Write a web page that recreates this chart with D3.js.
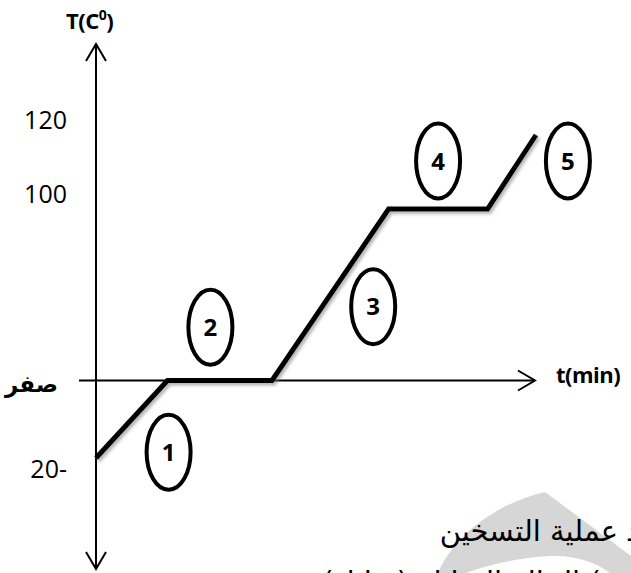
<!DOCTYPE html>
<html>
<head>
<meta charset="utf-8">
<script src="https://cdn.jsdelivr.net/npm/d3@7"></script>
<style>
  body { margin: 0; background: #fff; }
  svg { display: block; }
</style>
</head>
<body>
<div id="chart"></div>
<script>
// heating curve: time (min) vs temperature (C)
const times = [0, 3.25, 8, 13.3, 17.8, 20];
const temps = [-20, 0, 0, 100, 100, 120];

// circled stage numbers, placed in data units
const stageLabels = ["1", "2", "3", "4", "5"];
const stageTimes = [3.3, 5.2, 12.6, 15.55, 21.45];
const stageTemps = [-18.5, 31, 43, 113, 113];

// tick labels on the temperature axis
const tickValues = [120, 100, 0, -20];
const tickLabels = ["120", "100", "صفر", "20-"];

const width = 631, height = 573;

const svg = d3.select("#chart")
    .append("svg")
    .attr("width", width)
    .attr("height", height);

// drop shadow for the curve
const defs = svg.append("defs");
const f = defs.append("filter").attr("id", "shadow")
    .attr("x", "-10%").attr("y", "-10%").attr("width", "130%").attr("height", "130%");
f.append("feDropShadow")
    .attr("dx", 2).attr("dy", 2.5)
    .attr("stdDeviation", 1.6)
    .attr("flood-color", "#777")
    .attr("flood-opacity", 0.55);

// grey watermark shape in the bottom right corner
svg.append("path")
    .attr("d", "M438,573 C452,540 490,505 545,492 L631,556 L631,573 L610,573 C596,562 575,555 550,556 C515,558 484,566 466,573 Z")
    .attr("fill", "#d6d6d6");

// scales (schematic diagram, so the temperature scale is piecewise)
const x = d3.scaleLinear().domain([0, 20]).range([96, 536]);
const y = d3.scaleLinear().domain([-20, 0, 100, 120]).range([458, 380.5, 209, 135]);
// label positions sit a little off the ticks in the original
const yLabel = d3.scaleLinear().domain([-20, 0, 100, 120]).range([478, 392, 203, 129]);

const x0 = x(0), y0 = y(0);

// axes
const axes = svg.append("g")
    .attr("stroke", "#000")
    .attr("stroke-width", 2)
    .attr("fill", "none");

axes.append("line")
    .attr("x1", x0).attr("x2", x0)
    .attr("y1", 44).attr("y2", 569);
axes.append("line")
    .attr("x1", 79).attr("x2", 535)
    .attr("y1", y0).attr("y2", y0);

// open arrowheads
axes.append("path").attr("d", `M${x0 - 10},${61} L${x0},${44} L${x0 + 10},${61}`);
axes.append("path").attr("d", `M${x0 - 10},${552} L${x0},${569} L${x0 + 10},${552}`);
axes.append("path").attr("d", `M${518},${y0 - 10} L${535},${y0} L${518},${y0 + 10}`);

// curve
const pts = times.map((t, i) => [t, temps[i]]);
const line = d3.line()
    .x(d => x(d[0]))
    .y(d => y(d[1]));

svg.append("path")
    .datum(pts)
    .attr("d", line)
    .attr("fill", "none")
    .attr("stroke", "#000")
    .attr("stroke-width", 5)
    .attr("stroke-linejoin", "miter")
    .attr("filter", "url(#shadow)");

// tick labels
const isArabic = (d, i) => tickLabels[i] === "صفر";
svg.selectAll(".tick-label")
    .data(tickValues)
    .join("text")
    .attr("class", "tick-label")
    .attr("x", (d, i) => isArabic(d, i) ? 58 : 67)
    .attr("y", d => yLabel(d))
    .attr("text-anchor", "end")
    .style("font-family", (d, i) => isArabic(d, i) ? "'DejaVu Sans', sans-serif" : "'Open Sans', sans-serif")
    .style("font-weight", (d, i) => isArabic(d, i) ? "bold" : "normal")
    .style("font-size", (d, i) => isArabic(d, i) ? "23px" : "25px")
    .text((d, i) => tickLabels[i]);

// axis titles
const yTitle = svg.append("text")
    .attr("x", 66).attr("y", 29)
    .style("font-family", "'Open Sans', sans-serif")
    .style("font-weight", "bold")
    .style("font-size", "22px")
    .style("letter-spacing", "-0.5px");
yTitle.append("tspan").text("T(C");
yTitle.append("tspan").attr("dy", -9).style("font-size", "14px").text("0");
yTitle.append("tspan").attr("dy", 9).text(")");

svg.append("text")
    .attr("x", 556).attr("y", 383)
    .style("font-family", "'Open Sans', sans-serif")
    .style("font-weight", "bold")
    .style("font-size", "22px")
    .style("letter-spacing", "-0.5px")
    .text("t(min)");

// circled stage numbers
const stages = svg.selectAll(".stage")
    .data(stageLabels)
    .join("g")
    .attr("class", "stage")
    .attr("transform", (d, i) => `translate(${x(stageTimes[i])},${y(stageTemps[i])})`);

stages.append("ellipse")
    .attr("rx", 22).attr("ry", 37.5)
    .attr("fill", "#fff")
    .attr("stroke", "#000")
    .attr("stroke-width", 4);

stages.append("text")
    .attr("text-anchor", "middle")
    .attr("dy", "0.36em")
    .style("font-family", "'Open Sans', sans-serif")
    .style("font-weight", "bold")
    .style("font-size", "24px")
    .text(d => d);

// caption text at the bottom (cut by the page edge)
const caption = svg.append("g")
    .style("font-family", "'DejaVu Sans', sans-serif")
    .style("font-size", "29px")
    .attr("fill", "#000");

caption.append("text")
    .attr("x", 618).attr("y", 541)
    .attr("text-anchor", "end")
    .text("عملية التسخين");
caption.append("text")
    .attr("x", 626).attr("y", 541)
    .attr("text-anchor", "start")
    .text("عند");
caption.append("text")
    .attr("x", 628).attr("y", 592)
    .attr("text-anchor", "end")
    .text("ب) الحالة السائلة (سائل)");
</script>
</body>
</html>
